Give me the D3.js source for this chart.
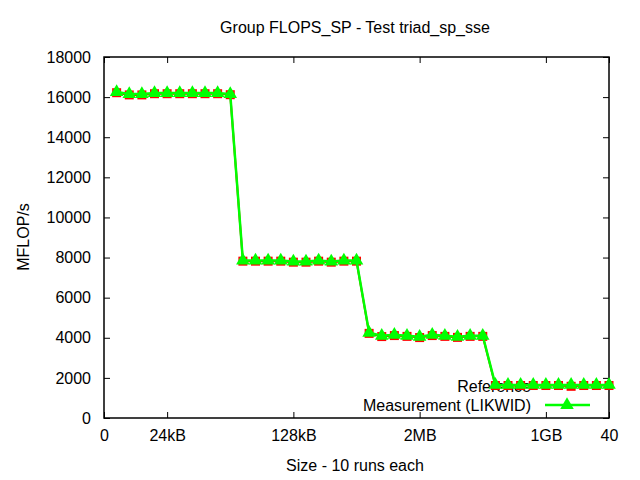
<!DOCTYPE html>
<html><head><meta charset="utf-8">
<script src="https://cdn.jsdelivr.net/npm/d3@7"></script>
<style>body{margin:0;background:#fff}svg{display:block}text{font-family:"Liberation Sans",Arial,sans-serif;fill:#000}</style>
</head><body>
<svg id="c" width="640" height="480"></svg>
<script>
const title = "Group FLOPS_SP - Test triad_sp_sse";
const xLabel = "Size - 10 runs each";
const yLabel = "MFLOP/s";
const xTickValues = [0, 5, 15, 25, 35, 40];
const xTickLabels = ["0", "24kB", "128kB", "2MB", "1GB", "40"];
const yTickValues = [0, 2000, 4000, 6000, 8000, 10000, 12000, 14000, 16000, 18000];
const runs = d3.range(1, 41);
const measurement = [16250,16150,16150,16200,16200,16200,16200,16200,16200,16150,
  7850,7850,7850,7850,7800,7800,7850,7800,7850,7850,
  4250,4100,4150,4100,4050,4150,4100,4050,4100,4100,
  1650,1650,1650,1650,1650,1650,1650,1650,1650,1650];
const reference = [16220,16110,16110,16170,16170,16170,16170,16170,16170,16120,
  7820,7820,7820,7820,7770,7770,7820,7770,7820,7820,
  4220,4060,4110,4070,4010,4110,4070,4020,4070,4070,
  1620,1620,1620,1620,1620,1620,1580,1620,1620,1620];
const seriesNames = ["Reference", "Measurement (LIKWID)"];

const svg = d3.select("#c");
const L = 104, R = 609, T = 57, B = 418;
const x = d3.scaleLinear().domain([0, 40]).range([L, R]);
const y = d3.scaleLinear().domain([0, 18000]).range([B, T]);
const fs = 16;

// legend text for Reference drawn first (data is drawn over it)
svg.append("text").attr("x", 531).attr("y", 392).attr("text-anchor", "end")
  .attr("font-size", fs).text(seriesNames[0]);

// axes
const tl = 6;
const gx = svg.append("g").attr("transform", `translate(0,${B})`)
  .call(d3.axisBottom(x).tickValues(xTickValues).tickFormat((d, i) => xTickLabels[i]).tickSizeInner(-tl).tickSizeOuter(0).tickPadding(12));
const gxt = svg.append("g").attr("transform", `translate(0,${T})`)
  .call(d3.axisTop(x).tickValues(xTickValues).tickFormat("").tickSizeInner(-tl).tickSizeOuter(0));
const gy = svg.append("g").attr("transform", `translate(${L},0)`)
  .call(d3.axisLeft(y).tickValues(yTickValues).tickFormat(d3.format("d")).tickSizeInner(-tl).tickSizeOuter(0).tickPadding(13));
const gyr = svg.append("g").attr("transform", `translate(${R},0)`)
  .call(d3.axisRight(y).tickValues(yTickValues).tickFormat("").tickSizeInner(-tl).tickSizeOuter(0));
[gx, gxt, gy, gyr].forEach(g => {
  g.select(".domain").remove();
  g.selectAll("line").attr("stroke", "#000").attr("stroke-width", 1);
  g.selectAll("text").attr("font-size", fs).attr("font-family", "Liberation Sans, Arial, sans-serif").attr("fill", "#000");
});
svg.append("rect").attr("x", L).attr("y", T).attr("width", R - L).attr("height", B - T)
  .attr("fill", "none").attr("stroke", "#000").attr("stroke-width", 1.5);

// labels
svg.append("text").attr("x", 355).attr("y", 33).attr("text-anchor", "middle").attr("font-size", fs).text(title);
svg.append("text").attr("x", 355).attr("y", 471).attr("text-anchor", "middle").attr("font-size", fs).text(xLabel);
svg.append("text").attr("transform", "translate(29,237) rotate(-90)").attr("text-anchor", "middle").attr("font-size", fs).text(yLabel);

// reference series
const lineRef = d3.line().x((d, i) => x(runs[i])).y(d => y(d));
svg.append("path").datum(reference).attr("d", lineRef).attr("fill", "none").attr("stroke", "#ff0000").attr("stroke-width", 2);
svg.append("g").selectAll("rect").data(reference).join("rect")
  .attr("x", (d, i) => x(runs[i]) - 4.5).attr("y", d => y(d) - 4.5).attr("width", 9).attr("height", 9).attr("fill", "#ff0000");

// measurement series
const tri = d3.symbol().type(d3.symbolTriangle).size(80);
svg.append("path").datum(measurement).attr("d", lineRef).attr("fill", "none").attr("stroke", "#00ff00").attr("stroke-width", 2.5);
svg.append("g").selectAll("path").data(measurement).join("path")
  .attr("transform", (d, i) => `translate(${x(runs[i])},${y(d)})`).attr("d", tri).attr("fill", "#00ff00");

// legend for measurement
svg.append("text").attr("x", 531).attr("y", 411).attr("text-anchor", "end").attr("font-size", fs).text(seriesNames[1]);
svg.append("line").attr("x1", 545).attr("x2", 590).attr("y1", 405).attr("y2", 405).attr("stroke", "#00ff00").attr("stroke-width", 2.5);
svg.append("path").attr("transform", "translate(567,405)").attr("d", tri).attr("fill", "#00ff00");
</script>
</body></html>
